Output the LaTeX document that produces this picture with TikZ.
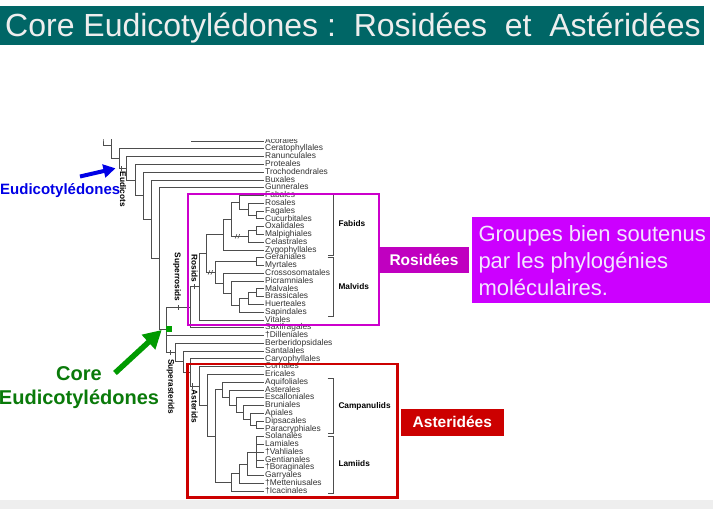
\documentclass[tikz,border=0pt]{standalone}
\usepackage{fontspec}
\setmainfont{Liberation Sans}
\usetikzlibrary{arrows.meta}

\definecolor{titlebg}{HTML}{006666}
\definecolor{titletext}{HTML}{EEEEEE}
\definecolor{treegray}{HTML}{4D4D4D}
\definecolor{leafgray}{HTML}{333333}
\definecolor{rosmag}{HTML}{CC00CC}
\definecolor{rosfill}{HTML}{C000C0}
\definecolor{grpfill}{HTML}{CC00FF}
\definecolor{grptext}{HTML}{F3E6FF}
\definecolor{astred}{HTML}{CC0000}
\definecolor{eudblue}{HTML}{0000E6}
\definecolor{cegreen}{HTML}{0A7A0A}
\definecolor{arrowgreen}{HTML}{009A00}
\definecolor{sqgreen}{HTML}{00A000}
\definecolor{stripgray}{HTML}{EEEEEE}

% one terminal taxon of the tree, placed by its row number
\newcommand\leafnode[3]{\node[leaf] (#1) at (263.5,{141+7.78*#2}) {#3};}

\begin{document}
\begin{tikzpicture}[x=1pt,y=-1pt,
  tree/.style={draw=treegray,line width=0.75pt},
  brk/.style={draw=treegray,line width=0.9pt},
  leaf/.style={anchor=west,inner xsep=1.5pt,inner ysep=0pt,text height=6pt,text depth=1.6pt,
    font=\fontsize{8.4}{9}\selectfont,text=leafgray},
  clade/.style={font=\bfseries\fontsize{8.3}{9}\selectfont,text=black,inner sep=0pt},
  rlabel/.style={clade,rotate=-90},
  tag/.style={inner sep=0pt,text=white,font=\bfseries\fontsize{15.5}{16}\selectfont},
  grp/.style={anchor=base west,inner sep=0pt,text=grptext,font=\fontsize{22}{26}\selectfont},
]
\useasboundingbox (0,0) rectangle (713,509);
\fill[white] (0,0) rectangle (713,509);

% title bar
\node[fill=titlebg,anchor=north west,minimum width=704pt,minimum height=39pt,inner sep=0pt] (bar) at (0,6) {};
\node[anchor=base west,inner sep=0pt,text=titletext,font=\fontsize{32}{32}\selectfont] (title) at (5,36.5)
  {Core Eudicotylédones :\ \ Rosidées\ \ et\ \ Astéridées};
\node[fill=stripgray,anchor=north west,minimum width=713pt,minimum height=9pt,inner sep=0pt] (strip) at (0,500) {};

% terminal taxa
\leafnode{aco}{0}{Acorales}
\leafnode{cer}{1}{Ceratophyllales}
\leafnode{ran}{2}{Ranunculales}
\leafnode{pro}{3}{Proteales}
\leafnode{tro}{4}{Trochodendrales}
\leafnode{bux}{5}{Buxales}
\leafnode{gun}{6}{Gunnerales}
\leafnode{fab}{7}{Fabales}
\leafnode{ros}{8}{Rosales}
\leafnode{fag}{9}{Fagales}
\leafnode{cuc}{10}{Cucurbitales}
\leafnode{oxa}{11}{Oxalidales}
\leafnode{mal}{12}{Malpighiales}
\leafnode{cel}{13}{Celastrales}
\leafnode{zyg}{14}{Zygophyllales}
\leafnode{ger}{15}{Geraniales}
\leafnode{myr}{16}{Myrtales}
\leafnode{cro}{17}{Crossosomatales}
\leafnode{pic}{18}{Picramniales}
\leafnode{mlv}{19}{Malvales}
\leafnode{bra}{20}{Brassicales}
\leafnode{hue}{21}{Huerteales}
\leafnode{sap}{22}{Sapindales}
\leafnode{vit}{23}{Vitales}
\leafnode{sax}{24}{Saxifragales}
\leafnode{dil}{25}{†Dilleniales}
\leafnode{ber}{26}{Berberidopsidales}
\leafnode{san}{27}{Santalales}
\leafnode{car}{28}{Caryophyllales}
\leafnode{cor}{29}{Cornales}
\leafnode{eri}{30}{Ericales}
\leafnode{aqu}{31}{Aquifoliales}
\leafnode{ast}{32}{Asterales}
\leafnode{esc}{33}{Escalloniales}
\leafnode{bru}{34}{Bruniales}
\leafnode{api}{35}{Apiales}
\leafnode{dip}{36}{Dipsacales}
\leafnode{par}{37}{Paracryphiales}
\leafnode{sol}{38}{Solanales}
\leafnode{lam}{39}{Lamiales}
\leafnode{vah}{40}{†Vahliales}
\leafnode{gen}{41}{Gentianales}
\leafnode{bor}{42}{†Boraginales}
\leafnode{gar}{43}{Garryales}
\leafnode{met}{44}{†Metteniusales}
\leafnode{ica}{45}{†Icacinales}

% internal nodes
\coordinate (cut103) at (103,130);
\coordinate (n103) at (103,137.5);
\coordinate (cut111) at (111.7,130);
\coordinate (n111) at (111.7,145);
\coordinate (n119) at (119,158.54);
\coordinate (eud) at (126.7,168.3);
\coordinate (n135) at (135,180.04);
\coordinate (n143) at (143.3,195.73);
\coordinate (n151) at (151.7,219.34);
\coordinate (core) at (159.3,258.77);
\coordinate (ce) at (166.7,329.86);
\coordinate (sr) at (190,307.22);
\coordinate (ro) at (199.3,286.72);
\coordinate (fm) at (206.7,253.5);
\coordinate (fa) at (223.3,234.6);
\coordinate (f1) at (231.7,219.29);
\coordinate (f2) at (239.3,202.27);
\coordinate (f3) at (248.3,209.08);
\coordinate (f4) at (256,214.91);
\coordinate (o1) at (248.3,236.3);
\coordinate (o2) at (256,230.47);
\coordinate (m1) at (215,272.41);
\coordinate (gm) at (256,261.59);
\coordinate (m2) at (223.3,283.23);
\coordinate (m3) at (231.7,293.2);
\coordinate (m4) at (239.3,305.35);
\coordinate (m5) at (248.3,298.55);
\coordinate (m6) at (256,292.71);
\coordinate (su) at (175,352.5);
\coordinate (sa) at (183.3,361.73);
\coordinate (ca) at (190,372.39);
\coordinate (as) at (199.3,385.94);
\coordinate (er) at (207.3,405.25);
\coordinate (cl) at (215,436.1);
\coordinate (c1) at (222,389.84);
\coordinate (c2) at (229.5,397.5);
\coordinate (c3) at (236.5,405.03);
\coordinate (c4) at (243.5,412.33);
\coordinate (c5) at (250,419.135);
\coordinate (c6) at (256.5,424.97);
\coordinate (l1) at (231,482.35);
\coordinate (l2) at (239.3,473.6);
\coordinate (l3) at (247,463.87);
\coordinate (l4) at (256,452.2);
\coordinate (acoStart) at (191,141);

% branches
\draw[tree] (acoStart) -- (aco.west);
\draw[tree] (cut103) -- (n103) |- (n111);
\draw[tree] (cut111) -- (n111) |- (n119);
\draw[tree] (n119) |- (cer.west);  \draw[tree] (n119) |- (eud);
\draw[tree] (eud) |- (ran.west);   \draw[tree] (eud) |- (n135);
\draw[tree] (n135) |- (pro.west);  \draw[tree] (n135) |- (n143);
\draw[tree] (n143) |- (tro.west);  \draw[tree] (n143) |- (n151);
\draw[tree] (n151) |- (bux.west);  \draw[tree] (n151) |- (core);
\draw[tree] (core) |- (gun.west);  \draw[tree] (core) |- (ce);
\draw[tree] (ce) |- (sr);  \draw[tree] (ce) |- (dil.west);  \draw[tree] (ce) |- (su);
% superrosids
\draw[tree] (sr) |- (ro);   \draw[tree] (sr) |- (sax.west);
\draw[tree] (ro) |- (fm);   \draw[tree] (ro) |- (vit.west);
\draw[tree] (fm) |- (fa);   \draw[tree] (fm) |- (m1);
\draw[tree] (fa) |- (f1);   \draw[tree] (fa) |- (zyg.west);
\draw[tree] (f1) |- (f2);   \draw[tree] (f1) |- (o1);
\draw[tree] (f2) |- (fab.west); \draw[tree] (f2) |- (f3);
\draw[tree] (f3) |- (ros.west); \draw[tree] (f3) |- (f4);
\draw[tree] (f4) |- (fag.west); \draw[tree] (f4) |- (cuc.west);
\draw[tree] (o1) |- (o2);   \draw[tree] (o1) |- (cel.west);
\draw[tree] (o2) |- (oxa.west); \draw[tree] (o2) |- (mal.west);
\draw[tree] (m1) |- (gm);   \draw[tree] (m1) |- (m2);
\draw[tree] (gm) |- (ger.west); \draw[tree] (gm) |- (myr.west);
\draw[tree] (m2) |- (cro.west); \draw[tree] (m2) |- (m3);
\draw[tree] (m3) |- (pic.west); \draw[tree] (m3) |- (m4);
\draw[tree] (m4) |- (m5);   \draw[tree] (m4) |- (sap.west);
\draw[tree] (m5) |- (m6);   \draw[tree] (m5) |- (hue.west);
\draw[tree] (m6) |- (mlv.west); \draw[tree] (m6) |- (bra.west);
% superasterids
\draw[tree] (su) |- (ber.west); \draw[tree] (su) |- (sa);
\draw[tree] (sa) |- (san.west); \draw[tree] (sa) |- (ca);
\draw[tree] (ca) |- (car.west); \draw[tree] (ca) |- (as);
\draw[tree] (as) |- (cor.west); \draw[tree] (as) |- (er);
\draw[tree] (er) |- (eri.west); \draw[tree] (er) |- (cl);
\draw[tree] (cl) |- (c1);   \draw[tree] (cl) |- (l1);
\draw[tree] (c1) |- (aqu.west); \draw[tree] (c1) |- (c2);
\draw[tree] (c2) |- (ast.west); \draw[tree] (c2) |- (c3);
\draw[tree] (c3) |- (esc.west); \draw[tree] (c3) |- (c4);
\draw[tree] (c4) |- (bru.west); \draw[tree] (c4) |- (c5);
\draw[tree] (c5) |- (api.west); \draw[tree] (c5) |- (c6);
\draw[tree] (c6) |- (dip.west); \draw[tree] (c6) |- (par.west);
\draw[tree] (l1) |- (l2);   \draw[tree] (l1) |- (ica.west);
\draw[tree] (l2) |- (l3);   \draw[tree] (l2) |- (met.west);
\draw[tree] (l3) |- (l4);   \draw[tree] (l3) |- (gar.west);
\foreach \t in {sol,lam,vah,gen,bor} \draw[tree] (l4) |- (\t.west);

% clade ticks on stems
\coordinate (tkEud) at (121.7,168.3);
\coordinate (tkSR) at (178,307.22);
\coordinate (tkRO) at (194,286.72);
\coordinate (tkSU) at (170.7,352.5);
\coordinate (tkAS) at (192.7,385.94);
\foreach \p in {tkEud,tkSR,tkRO,tkSU,tkAS}
  \draw[tree] ([yshift=-2.6pt]\p) -- ([yshift=2.6pt]\p);

% double slash marks
\coordinate (dsA) at (237.5,236.3);
\coordinate (dsB) at (210.5,272.41);
\foreach \p in {dsA,dsB}{
  \draw[tree,line width=0.6pt] ([xshift=-2.4pt,yshift=-2.2pt]\p) -- ([xshift=-0.6pt,yshift=2.2pt]\p);
  \draw[tree,line width=0.6pt] ([xshift=0.4pt,yshift=-2.2pt]\p) -- ([xshift=2.2pt,yshift=2.2pt]\p);
}

% core eudicot node marker
\node[fill=sqgreen,minimum size=6pt,inner sep=0pt] (coresq) at (169,329.3) {};

% rotated clade names
\node[rlabel] (eudLbl) at (123,189.5) {Eudicots};
\node[rlabel] (srLbl) at (177,277) {Superrosids};
\node[rlabel] (roLbl) at (194.5,268.5) {Rosids};
\node[rlabel] (suLbl) at (170.5,386.7) {Superasterids};
\node[rlabel] (asLbl) at (194.5,406.5) {Asterids};

% brackets on the right
\coordinate (fabT) at (327.7,194);   \coordinate (fabB) at (327.7,255);
\coordinate (malT) at (327.7,257);   \coordinate (malB) at (327.7,316);
\coordinate (camT) at (327.7,378.3); \coordinate (camB) at (327.7,433.5);
\coordinate (lamT) at (327.7,436);   \coordinate (lamB) at (327.7,493);
\draw[brk] (fabT) -- ++(5.6,0) |- (fabB);
\draw[brk] (malT) -- ++(5.6,0) |- (malB);
\draw[brk] (camT) -- ++(5.6,0) |- (camB);
\draw[brk] (lamT) -- ++(5.6,0) |- (lamB);
\node[clade,anchor=west] (fabLbl) at (338.3,224) {Fabids};
\node[clade,anchor=west] (malLbl) at (338.3,286.7) {Malvids};
\node[clade,anchor=west] (camLbl) at (338.3,406) {Campanulids};
\node[clade,anchor=west] (lamLbl) at (338.3,464) {Lamiids};

% blank the upper part of the tree
\fill[white] (88,46) rectangle (300,139);

% group frames
\node[draw=rosmag,line width=2pt,minimum width=190.2pt,minimum height=131pt,inner sep=0pt] (rosbox) at (283.4,259.5) {};
\node[draw=astred,line width=2.5pt,minimum width=209.6pt,minimum height=133.3pt,inner sep=0pt] (astbox) at (292.5,430.65) {};

% group tags
\node[tag,fill=rosfill,minimum width=89.4pt,minimum height=26pt] (rosTag) at (424,260.3) {Rosidées};
\node[tag,fill=astred,minimum width=102.7pt,minimum height=26.7pt] (astTag) at (452.35,422.35) {Asteridées};

% comment box
\node[fill=grpfill,minimum width=237.7pt,minimum height=86pt,inner sep=0pt] (grpbox) at (591.2,259.7) {};
\node[grp] (grp1) at (478.3,241.5) {Groupes bien soutenus};
\node[grp] (grp2) at (478.3,268.5) {par les phylogénies};
\node[grp] (grp3) at (478.3,295.5) {moléculaires.};

% left annotations
\node[anchor=base west,inner sep=0pt,text=eudblue,font=\bfseries\fontsize{15}{16}\selectfont] (eudText) at (0,194.3) {Eudicotylédones};
\coordinate (barT) at (80,176.5);
\coordinate (barH) at (115.5,168.3);
\draw[eudblue,line width=4pt,-{Triangle[length=12pt,width=13pt]}] (barT) -- (barH);

\node[anchor=base,inner sep=0pt,text=cegreen,font=\bfseries\fontsize{20}{22}\selectfont] (ceText1) at (79,380.5) {Core};
\node[anchor=base,inner sep=0pt,text=cegreen,font=\bfseries\fontsize{20}{22}\selectfont] (ceText2) at (79,404.5) {Eudicotylédones};
\coordinate (garT) at (115,373);
\coordinate (garH) at (161.7,330);
\draw[arrowgreen,line width=5.5pt,-{Triangle[length=18pt,width=19pt]}] (garT) -- (garH);
\end{tikzpicture}
\end{document}
